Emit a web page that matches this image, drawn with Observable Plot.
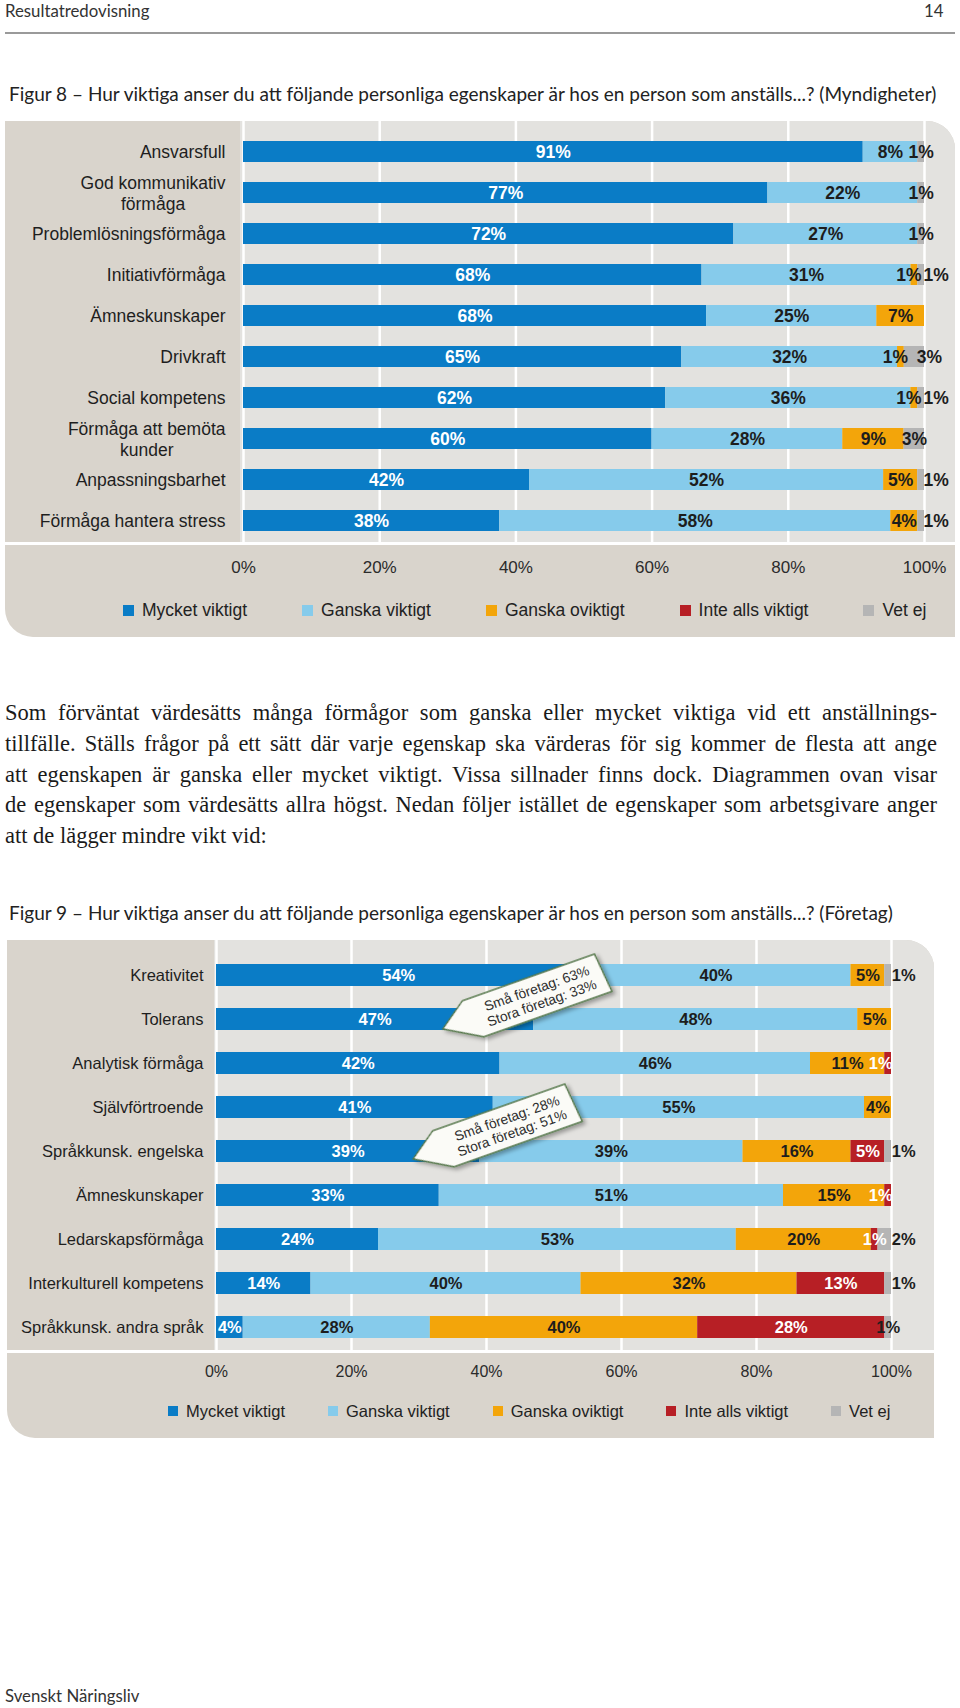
<!DOCTYPE html>
<html><head><meta charset="utf-8">
<script src="https://cdn.jsdelivr.net/npm/d3@7"></script>
<script src="https://cdn.jsdelivr.net/npm/@observablehq/plot@0.6"></script>
<style>
html,body{margin:0;padding:0;background:#fff;}
#page{position:relative;width:960px;height:1708px;overflow:hidden;font-family:Lato,sans-serif;color:#222;}
.abs{position:absolute;}
.hdr{font-family:Lato,sans-serif;font-size:16.8px;color:#333;line-height:20px;white-space:nowrap;}
.ftitle{font-family:Lato,sans-serif;font-size:19px;color:#222;line-height:22px;white-space:nowrap;}
.para{font-family:"Liberation Serif",serif;font-size:22.5px;line-height:30.75px;color:#1a1a1a;width:932px;}
.para div{white-space:nowrap;text-align:justify;text-align-last:justify;}
.para div.last{text-align-last:left;}
.legend{display:flex;align-items:center;font-family:"Liberation Sans",Arial,sans-serif;color:#222;white-space:nowrap;height:20px;}
.legend .item{display:flex;align-items:center;}
</style>
</head><body><div id="page"></div>
<script>
// ---------- DATA ----------
const categories = ["Mycket viktigt", "Ganska viktigt", "Ganska oviktigt", "Inte alls viktigt", "Vet ej"];
const colors = ["#0a7cc6", "#86cbeb", "#f3a50a", "#b71f25", "#b5b5b5"];
const xTicks = [0, 20, 40, 60, 80, 100];

const fig8Title = "Figur 8 – Hur viktiga anser du att följande personliga egenskaper är hos en person som anställs...? (Myndigheter)";
const fig8Items = ["Ansvarsfull", "God kommunikativ\nförmåga", "Problemlösningsförmåga", "Initiativförmåga", "Ämneskunskaper",
  "Drivkraft", "Social kompetens", "Förmåga att bemöta\nkunder", "Anpassningsbarhet", "Förmåga hantera stress"];
const fig8Mycket   = [91, 77, 72, 68, 68, 65, 62, 60, 42, 38];
const fig8Ganska   = [8, 22, 27, 31, 25, 32, 36, 28, 52, 58];
const fig8Oviktigt = [0, 0, 0, 1, 7, 1, 1, 9, 5, 4];
const fig8InteAlls = [0, 0, 0, 0, 0, 0, 0, 0, 0, 0];
const fig8VetEj    = [1, 1, 1, 1, 0, 3, 1, 3, 1, 1];

const fig9Title = "Figur 9 – Hur viktiga anser du att följande personliga egenskaper är hos en person som anställs...? (Företag)";
const fig9Items = ["Kreativitet", "Tolerans", "Analytisk förmåga", "Självförtroende", "Språkkunsk. engelska",
  "Ämneskunskaper", "Ledarskapsförmåga", "Interkulturell kompetens", "Språkkunsk. andra språk"];
const fig9Mycket   = [54, 47, 42, 41, 39, 33, 24, 14, 4];
const fig9Ganska   = [40, 48, 46, 55, 39, 51, 53, 40, 28];
const fig9Oviktigt = [5, 5, 11, 4, 16, 15, 20, 32, 40];
const fig9InteAlls = [0, 0, 1, 0, 5, 1, 1, 13, 28];
const fig9VetEj    = [1, 0, 0, 0, 1, 0, 2, 1, 1];

const fig9Callouts = [
  {row: "Tolerans", x: 33.6, lines: ["Små företag: 63%", "Stora företag: 33%"]},
  {row: "Språkkunsk. engelska", x: 29.2, lines: ["Små företag: 28%", "Stora företag: 51%"]}
];

const paragraph = [
  "Som förväntat värdesätts många förmågor som ganska eller mycket viktiga vid ett anställnings-",
  "tillfälle. Ställs frågor på ett sätt där varje egenskap ska värderas för sig kommer de flesta att ange",
  "att egenskapen är ganska eller mycket viktigt. Vissa sillnader finns dock. Diagrammen ovan visar",
  "de egenskaper som värdesätts allra högst. Nedan följer istället de egenskaper som arbetsgivare anger",
  "att de lägger mindre vikt vid:"
];

// ---------- HELPERS ----------
const page = document.getElementById("page");
function box(style, cls, text) {
  const d = document.createElement("div");
  d.className = "abs " + (cls || "");
  Object.assign(d.style, style);
  if (text != null) d.textContent = text;
  page.appendChild(d);
  return d;
}
function legend(left, top, gap, fontSize, sw) {
  const d = box({left: left + "px", top: top + "px", gap: gap + "px", fontSize: fontSize + "px"}, "legend");
  categories.forEach((c, i) => {
    const it = document.createElement("div"); it.className = "item";
    const s = document.createElement("span");
    Object.assign(s.style, {display: "inline-block", width: sw + "px", height: sw + "px", background: colors[i], marginRight: "8px"});
    const t = document.createElement("span"); t.textContent = c;
    it.appendChild(s); it.appendChild(t); d.appendChild(it);
  });
}
function buildRows(items, series) {
  const rows = [];
  items.forEach((item, i) => {
    const vals = series.map(s => s[i]);
    const total = d3.sum(vals);
    let cum = 0;
    vals.forEach((v, k) => {
      if (v > 0) rows.push({item, k, category: categories[k], value: v,
        x1: 100 * cum / total, x2: 100 * (cum + v) / total, vals, total});
      cum += v;
    });
  });
  return rows;
}
const ctx = document.createElement("canvas").getContext("2d");

function chart(o) {
  const rows = buildRows(o.items, o.series);
  ctx.font = `${o.labelFont}px "Liberation Sans"`;
  const single = o.items.filter(s => !s.includes("\n"));
  const multi = o.items.filter(s => s.includes("\n"));
  const isWhite = d => d.k === 0 || d.k === 3;
  const txt = {x: o.labelX, y: "item", text: d => d.value + "%", fontWeight: "bold", fontSize: o.valueFont};
  const marks = [
    Plot.ruleX(xTicks, {stroke: "white", strokeWidth: 2.5}),
    Plot.barX(rows, {x1: "x1", x2: "x2", y: "item", fill: "category"}),
    Plot.text(rows.filter(isWhite), {...txt, fill: "white"}),
    Plot.text(rows.filter(d => !isWhite(d)), {...txt, fill: "#1d1d1d"}),
    Plot.text(single, {y: d => d, text: d => d, frameAnchor: "left", textAnchor: "end", dx: -o.labelGap, fontSize: o.labelFont, fill: "#1e1e1e"}),
    ...multi.map(s => {
      const w = d3.max(s.split("\n"), l => ctx.measureText(l).width);
      return Plot.text([s], {y: d => d, text: d => d, frameAnchor: "left", textAnchor: "middle",
        dx: -o.labelGap - w / 2, fontSize: o.labelFont, lineHeight: 1.17, fill: "#1e1e1e"});
    }),
    Plot.text(xTicks, {x: d => d, text: d => d + "%", frameAnchor: "bottom", dy: o.tickDy, fontSize: o.axisFont, fill: "#2b2b2b"})
  ];
  return Plot.plot({
    width: 960, height: o.frameH + o.marginBottom,
    marginLeft: o.marginLeft, marginRight: o.marginRight, marginTop: 0, marginBottom: o.marginBottom,
    x: {domain: [0, 100], axis: null},
    y: {domain: o.items, range: o.yRange, paddingInner: o.pIn, paddingOuter: o.pOut, axis: null},
    color: {domain: categories, range: colors},
    style: {fontFamily: "'Liberation Sans', Arial, sans-serif", background: "transparent", overflow: "visible"},
    marks
  });
}

// ---------- PAGE ----------
box({left: "5px", top: "1px"}, "hdr", "Resultatredovisning");
box({left: "924px", top: "1px"}, "hdr", "14");
box({left: "5px", top: "32px", width: "950px", height: "2px", background: "#9a9a9a"});

box({left: "9px", top: "83px"}, "ftitle", fig8Title);
// panel fig 8
box({left: "5px", top: "121px", width: "950px", height: "516px", background: "#d9d4cc", borderRadius: "0 28px 0 28px"});
box({left: "240px", top: "121px", width: "715px", height: "421px", background: "#e3e2df", borderTopRightRadius: "28px"});
box({left: "5px", top: "542px", width: "950px", height: "2.5px", background: "#fff"});

const fig8 = chart({
  items: fig8Items, series: [fig8Mycket, fig8Ganska, fig8Oviktigt, fig8InteAlls, fig8VetEj],
  marginLeft: 243, marginRight: 36, frameH: 422, marginBottom: 50,
  yRange: [9, 422], pIn: 0.485, pOut: 0.2425,
  labelFont: 17.5, valueFont: 17.5, axisFont: 17, labelGap: 18, tickDy: 29,
  labelX: d => {
    const mid = (d.x1 + d.x2) / 2;
    if (d.k === 4 && d.vals[2] > 0 && d.vals[2] < 9) return mid + 2.2;
    if (d.k === 2 && d.value <= 1) return mid - 0.8;
    return mid;
  }
});
const w8 = box({left: "0px", top: "121px"});
w8.appendChild(fig8);
legend(123, 600, 55, 17.5, 11);

// paragraph
const para = box({left: "5px", top: "698px"}, "para");
paragraph.forEach((l, i) => {
  const d = document.createElement("div");
  if (i === paragraph.length - 1) d.className = "last";
  d.textContent = l; para.appendChild(d);
});

box({left: "9px", top: "902px"}, "ftitle", fig9Title);
// panel fig 9
box({left: "7px", top: "940px", width: "927px", height: "498px", background: "#d9d4cc", borderRadius: "0 28px 0 28px"});
box({left: "214px", top: "940px", width: "720px", height: "410px", background: "#e3e2df", borderTopRightRadius: "28px"});
box({left: "7px", top: "1350px", width: "927px", height: "2.5px", background: "#fff"});

const fig9 = chart({
  items: fig9Items, series: [fig9Mycket, fig9Ganska, fig9Oviktigt, fig9InteAlls, fig9VetEj],
  marginLeft: 216, marginRight: 69, frameH: 411, marginBottom: 45,
  yRange: [10.8, 410.4], pIn: 0.505, pOut: 0.2525,
  labelFont: 16.5, valueFont: 16.5, axisFont: 16, labelGap: 13, tickDy: 25,
  labelX: d => {
    const mid = (d.x1 + d.x2) / 2;
    if (d.k === 4) {
      const prev = d.vals.slice(0, 4).filter(v => v > 0).pop();
      if (prev < 20) return 101.8;
    }
    if (d.k === 3 && d.value <= 1 && d.vals[4] === 0) return mid - 1.1;
    return mid;
  }
});
const w9 = box({left: "0px", top: "940px"});
w9.appendChild(fig9);
legend(168, 1401, 43, 16.5, 10);

// callouts in fig 9
{
  const xs = fig9.scale("x"), ys = fig9.scale("y");
  const svg = d3.select(fig9);
  const defs = svg.append("defs");
  const f = defs.append("filter").attr("id", "cshadow").attr("x", "-20%").attr("y", "-40%").attr("width", "140%").attr("height", "180%");
  f.append("feDropShadow").attr("dx", 2).attr("dy", 3).attr("stdDeviation", 2).attr("flood-color", "#000").attr("flood-opacity", 0.35);
  fig9Callouts.forEach((c, j) => {
    const tx = xs.apply(c.x);
    const ty = ys.apply(c.row) + ys.bandwidth / 2 + (j === 0 ? 10 : 8);
    const g = svg.append("g").attr("transform", `translate(${tx},${ty}) rotate(-19.5)`);
    g.append("path").attr("d", "M0,0L28,-20L168,-20L172,21L36,21Z")
      .attr("fill", "#fbfbf7").attr("stroke", "#55784a").attr("stroke-width", 1.5).attr("filter", "url(#cshadow)");
    c.lines.forEach((t, i) => g.append("text").attr("x", 102).attr("y", (i - 0.5) * 15.5 + 1)
      .attr("dominant-baseline", "central").attr("text-anchor", "middle")
      .attr("font-family", "'Liberation Sans', Arial, sans-serif").attr("font-size", 13.8).attr("fill", "#2e2e2e").text(t));
  });
}

box({left: "5px", top: "1686px"}, "hdr", "Svenskt Näringsliv");
</script>
</body></html>
